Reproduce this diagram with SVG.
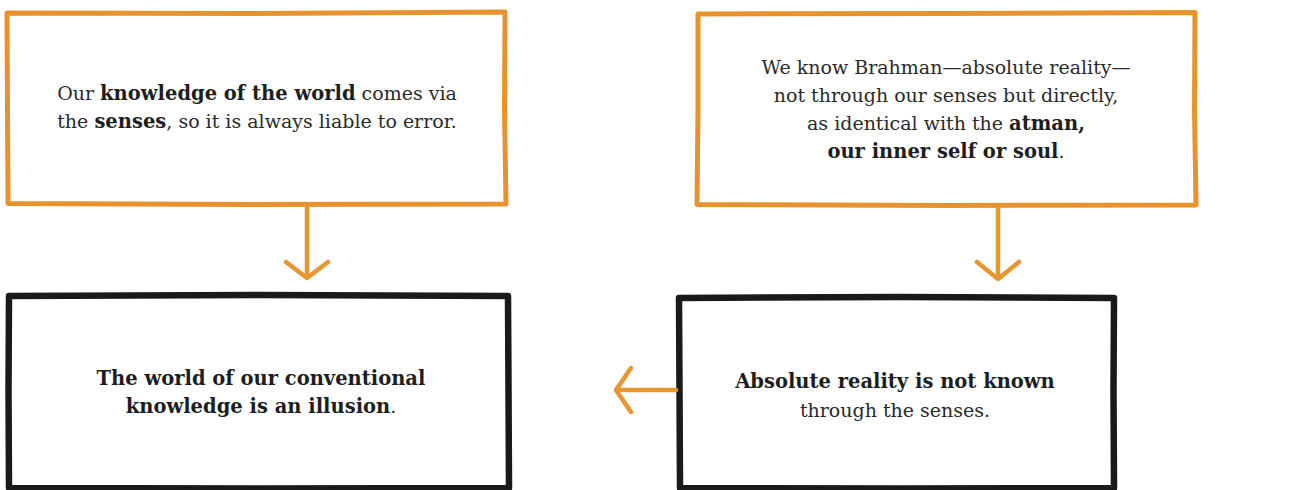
<svg xmlns="http://www.w3.org/2000/svg" width="1306" height="490" viewBox="0 0 1306 490">
<defs>
<style>
.ob{fill:#fff;stroke:#E8922E;stroke-width:5;stroke-linejoin:round}
.kb{fill:#fff;stroke:#1a1a1a;stroke-width:6.5;stroke-linejoin:round}
.t{font-family:"DejaVu Serif","Liberation Serif",serif;font-size:19px;fill:#2a2a2a;text-anchor:middle}
.b{font-weight:bold;fill:#1e1e1e;font-size:19.5px}
.c{fill:none;stroke:#E8962F;stroke-width:4.5;stroke-linecap:round;stroke-linejoin:round}
</style>
</defs>
<rect width="1306" height="490" fill="#fff"/>
<g id="n1">
<path class="ob" d="M7 13 L250 13.5 L505 12 L504.5 110 L506 204 L250 204.5 L8 203.5 L7.5 110 Z"/>
<text class="t" x="257" y="100">Our <tspan class="b">knowledge of the world</tspan> comes via</text>
<text class="t" x="257" y="128">the <tspan class="b">senses</tspan>, so it is always liable to error.</text>
</g>
<g id="n2">
<path class="ob" d="M698 14 L950 13.5 L1195 12.5 L1194.5 110 L1196 205 L950 205.5 L697 204.5 L698 110 Z"/>
<text class="t" x="946" y="74">We know Brahman—absolute reality—</text>
<text class="t" x="946" y="102">not through our senses but directly,</text>
<text class="t" x="946" y="130">as identical with the <tspan class="b">atman,</tspan></text>
<text class="t" x="946" y="158"><tspan class="b">our inner self or soul</tspan>.</text>
</g>
<g id="n3">
<path class="kb" d="M9 296 L260 295 L508 296 L508.5 390 L509 488 L260 488.5 L9 488 L8.5 390 Z"/>
<text class="t b" x="261" y="385">The world of our conventional</text>
<text class="t" x="261" y="413"><tspan class="b">knowledge is an illusion</tspan>.</text>
</g>
<g id="n4">
<path class="kb" d="M679 298 L900 297 L1114 298 L1113.5 390 L1114 488 L900 488.5 L680 488 L679.5 390 Z"/>
<text class="t b" x="895" y="388">Absolute reality is not known</text>
<text class="t" x="895" y="417">through the senses.</text>
</g>
<g id="connectors">
<path class="c" d="M307 207 L307 277 M286 262 L307 278 L328 262"/>
<path class="c" d="M998 208 L998 278 M977 262 L998 279 L1019 262"/>
<path class="c" d="M676 390 L617 390 M631 368 L616 390 L631 412"/>
</g>
</svg>
